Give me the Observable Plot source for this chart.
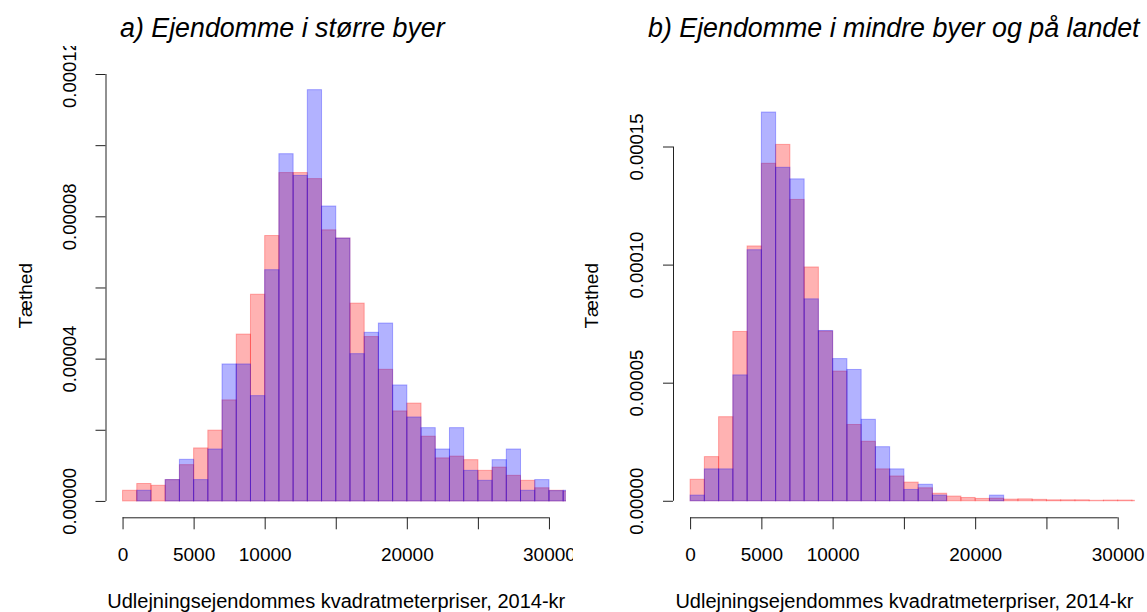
<!DOCTYPE html>
<html><head><meta charset="utf-8">
<script src="https://cdn.jsdelivr.net/npm/d3@7"></script>
<script src="https://cdn.jsdelivr.net/npm/@observablehq/plot@0.6"></script>
<style>
body{margin:0;background:#fff;width:1147px;height:612px;overflow:hidden;position:relative;font-family:"Liberation Sans",Arial,sans-serif;}
.title{position:absolute;font-style:italic;font-size:26.8px;line-height:26.8px;white-space:nowrap;color:#000;z-index:2;}
.panel{position:absolute;}
.panel svg{overflow:hidden;}
</style></head><body>
<div class="title" style="left:120px;top:15.3px">a) Ejendomme i større byer</div>
<div class="title" style="left:648px;top:15.3px">b) Ejendomme i mindre byer og på landet</div>
<div class="panel" id="pa" style="left:0px;top:46px"></div>
<div class="panel" id="pb" style="left:573px;top:42px"></div>
<script>
// bin start values (kr per m2), bin width 1000
const binStarts = [0,1000,2000,3000,4000,5000,6000,7000,8000,9000,10000,11000,12000,13000,14000,15000,
  16000,17000,18000,19000,20000,21000,22000,23000,24000,25000,26000,27000,28000,29000,30000,31000];
const binWidth = 1000;
const densUnit = 1e-5;

// Panel a: density (in 1e-5) — red and blue series
const redA = [0.30,0.49,0.44,0.60,1.02,1.49,1.99,2.84,4.69,5.81,7.46,9.23,9.23,9.06,7.62,7.39,
  5.56,4.62,3.70,2.53,2.75,1.82,1.21,1.26,1.16,0.86,0.95,0.72,0.58,0.37,0.30,0.28];
const blueA = [0,0.30,0,0.60,1.17,0.60,1.46,3.85,3.85,2.96,6.50,9.76,9.15,11.56,8.29,7.39,
  4.14,4.74,5.00,3.26,2.36,2.06,1.46,2.06,0.86,0.58,1.16,1.46,0.30,0.60,0.29,0.30];

// Panel b
const redB = [0.91,1.87,3.56,7.17,10.79,14.29,15.09,12.76,9.90,7.19,5.49,3.23,2.52,1.35,1.05,0.79,
  0.55,0.32,0.20,0.14,0.10,0.11,0.07,0.08,0.06,0.04,0.04,0.04,0.02,0.03,0.03,0.02];
const blueB = [0.24,1.35,1.35,5.33,10.63,16.46,14.12,13.63,8.55,7.21,6.02,5.56,3.45,2.29,1.35,0.48,
  0.70,0.24,0,0,0,0.24,0,0,0,0,0,0,0,0,0,0];

const xTicks = [0,5000,10000,15000,20000,25000,30000];
const xTickLabels = ["0","5000","10000","","20000","","30000"];
const yTicksA = [0,0.00002,0.00004,0.00006,0.00008,0.0001,0.00012];
const yLabelsA = ["0.00000","","0.00004","","0.00008","","0.00012"];
const yTicksB = [0,0.00005,0.0001,0.00015];
const yLabelsB = ["0.00000","0.00005","0.00010","0.00015"];

const xTitle = "Udlejningsejendommes kvadratmeterpriser, 2014-kr";
const yTitle = "Tæthed";

const FONT = '"Liberation Sans", Arial, sans-serif';
const PLOT_TOP = 73.3, PLOT_BOTTOM = 517.3, PAGE_H = 612;

function bins(vals){
  return binStarts.map((s,i)=>({x1:s, x2:s+binWidth, v: vals[i]*densUnit}));
}

function panel(el, o){
  const top = parseFloat(el.style.top);
  const yLabelData = o.yTicks.map((t,i)=>({v:t, s:o.yLabels[i]})).filter(d=>d.s);
  const chart = Plot.plot({
    width: o.width, height: PAGE_H - top,
    marginLeft: o.ml, marginRight: o.mr, marginTop: PLOT_TOP - top, marginBottom: PAGE_H - PLOT_BOTTOM,
    x: {domain: [-1200, 31200]},
    y: {domain: o.yDomain},
    style: {fontFamily: FONT, background: "white", color: "#000", overflow: "hidden"},
    marks: [
      Plot.rect(bins(o.red), {x1:"x1", x2:"x2", y1:0, y2:"v", fill:"#ff0000", fillOpacity:0.3,
        stroke:"#ff0000", strokeOpacity:0.3, strokeWidth:1, clip:true}),
      Plot.rect(bins(o.blue), {x1:"x1", x2:"x2", y1:0, y2:"v", fill:"#0000ff", fillOpacity:0.3,
        stroke:"#0000ff", strokeOpacity:0.3, strokeWidth:1, clip:true}),
      Plot.ruleY([o.yDomain[0]], {x1: xTicks[0], x2: xTicks[xTicks.length-1], stroke:"#222"}),
      Plot.ruleX([-1200], {y1: o.yTicks[0], y2: o.yTicks[o.yTicks.length-1], stroke:"#222"}),
      Plot.axisX({ticks: xTicks, tickSize: 12, tickPadding: 17.4, fontSize: 19, label: null,
        stroke:"#222", tickFormat: d => xTickLabels[xTicks.indexOf(d)]}),
      Plot.axisY({ticks: o.yTicks, tickSize: 10, label: null, stroke:"#222", tickFormat: () => ""}),
      Plot.text(yLabelData, {x: -1200, y: "v", text: "s", rotate: -90, dx: o.ylabDx,
        textAnchor: "middle", lineAnchor: "middle", fontSize: 18.5}),
      Plot.text([yTitle], {frameAnchor: "left", dx: o.ytitleDx, rotate: -90,
        textAnchor: "middle", lineAnchor: "middle", fontSize: 19}),
      Plot.text([xTitle], {frameAnchor: "bottom", dy: 84, textAnchor: "middle",
        lineAnchor: "middle", fontSize: 20})
    ]
  });
  el.appendChild(chart);
}

panel(document.getElementById("pa"), {width: 573, ml: 105.5, mr: 7, red: redA, blue: blueA,
  yDomain: [-0.46e-5, 12.02e-5], yTicks: yTicksA, yLabels: yLabelsA, ylabDx: -35.5, ytitleDx: -80.5});
panel(document.getElementById("pb"), {width: 574, ml: 100, mr: 12.2, red: redB, blue: blueB,
  yDomain: [-0.70e-5, 18.1e-5], yTicks: yTicksB, yLabels: yLabelsB, ylabDx: -36, ytitleDx: -82});
</script>
</body></html>
